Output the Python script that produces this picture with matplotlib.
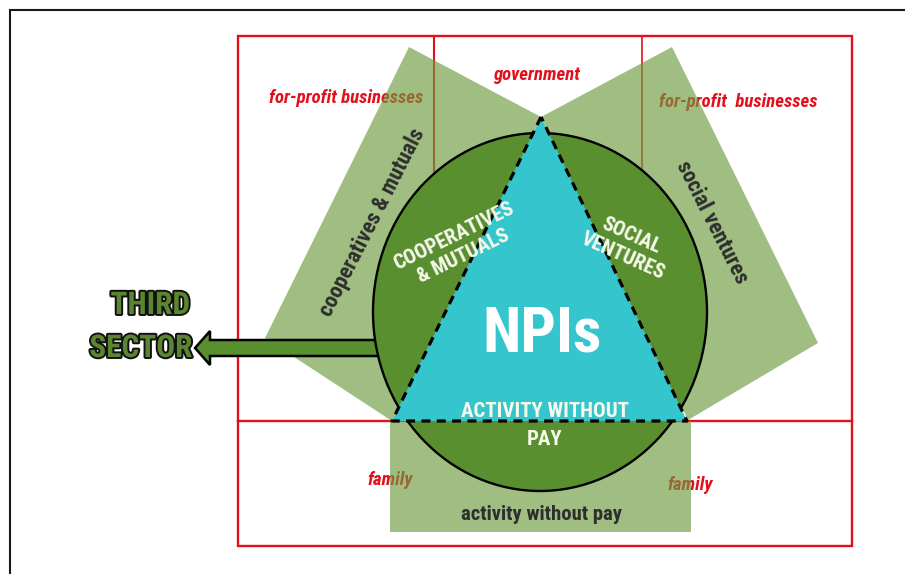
import matplotlib
matplotlib.use("Agg")
import matplotlib.pyplot as plt
from matplotlib.patches import Polygon, Ellipse, Rectangle, FancyArrow
from matplotlib import font_manager
import matplotlib.patheffects as pe

# ---- labels (diagram content) ----
outer_labels = ["government", "for-profit businesses", "for-profit  businesses", "family", "family"]
band_labels = ["cooperatives & mutuals", "social ventures", "activity without pay"]
inner_labels = ["COOPERATIVES\n& MUTUALS", "SOCIAL\nVENTURES", "ACTIVITY WITHOUT", "PAY"]
center_label = "NPIs"
side_labels = ["THIRD", "SECTOR"]

# ---- pick a narrow font if one is installed ----
available = {f.name for f in font_manager.fontManager.ttflist}
narrow = None
for cand in ["Roboto Condensed", "Liberation Sans Narrow", "Arial Narrow",
             "Open Sans Condensed", "DejaVu Sans Condensed"]:
    if cand in available:
        narrow = cand
        break
if narrow is None:
    FONT = ["Liberation Sans", "DejaVu Sans"]
    S = 0.84          # shrink regular-width font to match narrow widths
else:
    FONT = [narrow, "Liberation Sans", "DejaVu Sans"]
    S = 1.0

# ---- figure in pixel coordinates ----
W, H = 905, 574
fig = plt.figure(figsize=(W / 100, H / 100), dpi=100)
ax = fig.add_axes([0, 0, 1, 1])
ax.set_xlim(0, W)
ax.set_ylim(H, 0)
ax.axis("off")

RED = "#e3101b"
BAND = "#6d9b3f"
BAND_ALPHA = 0.65
CIRCLE = "#5a8f30"
CYAN = "#34c6cc"
DARK = "#2e2e2e"
WHITE = "#f6f9ec"

# outer black frame (left and top)
ax.plot([10, 10, W], [H, 10, 10], color="#1a1a1a", lw=1.5, zorder=0,
        solid_joinstyle="miter")

# red sector grid
ax.add_patch(Rectangle((238, 36), 614, 510, fill=False, ec=RED, lw=1.7, zorder=1))
ax.plot([238, 852], [421, 421], color=RED, lw=1.7, zorder=1)
ax.plot([434, 434], [36, 421], color=RED, lw=1.5, zorder=1)
ax.plot([642, 642], [36, 421], color=RED, lw=1.2, zorder=1)

# red sector labels (under the translucent bands)
red_kw = dict(fontfamily=FONT, fontweight="bold", fontstyle="italic",
              fontsize=13.5 * S, color=RED, ha="center", va="baseline", zorder=1)
ax.text(537, 80, outer_labels[0], **red_kw)
ax.text(346, 103, outer_labels[1], **red_kw)
ax.text(738, 107, outer_labels[2], **red_kw)
ax.text(390, 485, outer_labels[3], **red_kw)
ax.text(690, 490, outer_labels[4], **red_kw)

# translucent bands
band_kw = dict(closed=True, fc=BAND, ec="none", alpha=BAND_ALPHA, zorder=2)
ax.add_patch(Polygon([(409, 47), (541, 117), (392, 421), (265, 338)], **band_kw))
ax.add_patch(Polygon([(541, 117), (672, 47), (818, 343), (688, 420)], **band_kw))
ax.add_patch(Rectangle((390, 421), 301, 111, fc=BAND, ec="none", alpha=BAND_ALPHA, zorder=2))

# arrow to "THIRD SECTOR"
ax.add_patch(FancyArrow(390, 348, -195, 0, width=16, head_width=34, head_length=15,
                        length_includes_head=True, fc=CIRCLE, ec="black", lw=1.8,
                        zorder=3))

# circle
ax.add_patch(Ellipse((540, 312), 334, 358, fc=CIRCLE, ec="black", lw=1.7, zorder=4))

# NPI triangle
tri = [(541, 117), (392, 421), (687, 421)]
ax.add_patch(Polygon(tri, closed=True, fc=CYAN, ec="none", zorder=5))
xs = [p[0] for p in tri] + [tri[0][0]]
ys = [p[1] for p in tri] + [tri[0][1]]
ax.plot(xs, ys, color="black", lw=2.3, linestyle=(0, (2.8, 2.0)), zorder=6)

# band labels
ax.text(372, 222, band_labels[0], fontfamily=FONT, fontsize=15.8 * S, fontweight="bold",
        color=DARK, rotation=63, ha="center", va="center", rotation_mode="anchor", zorder=7)
ax.text(712, 222, band_labels[1], fontfamily=FONT, fontsize=15.8 * S, fontweight="bold",
        color=DARK, rotation=-63, ha="center", va="center", rotation_mode="anchor", zorder=7)
ax.text(541, 520, band_labels[2], fontfamily=FONT, fontsize=14.9 * S, fontweight="bold",
        color=DARK, ha="center", va="baseline", zorder=7)

# inner labels
ax.text(459, 246, inner_labels[0], fontfamily=FONT, fontsize=14.8 * S, fontweight="bold",
        color=WHITE, rotation=26, ha="center", va="center", multialignment="center",
        rotation_mode="anchor", linespacing=1.2, zorder=7)
ax.text(627, 246, inner_labels[1], fontfamily=FONT, fontsize=14.8 * S, fontweight="bold",
        color=WHITE, rotation=-24, ha="center", va="center", multialignment="center",
        rotation_mode="anchor", linespacing=1.2, zorder=7)
ax.text(545, 417, inner_labels[2], fontfamily=FONT, fontsize=15 * S, fontweight="bold",
        color=WHITE, ha="center", va="baseline", zorder=7)
ax.text(545, 445, inner_labels[3], fontfamily=FONT, fontsize=15 * S, fontweight="bold",
        color=WHITE, ha="center", va="baseline", zorder=7)
ax.text(542, 352, center_label, fontfamily=FONT, fontsize=45 * S, fontweight="bold",
        color="white", ha="center", va="baseline", zorder=7)

# THIRD SECTOR
side_kw = dict(fontfamily=FONT, fontsize=22.5 * S, fontweight="bold", color="#5b8530",
               ha="right", va="baseline", zorder=7,
               path_effects=[pe.withStroke(linewidth=2.8, foreground="#111111")])
ax.text(190, 314, side_labels[0], **side_kw)
ax.text(192, 357, side_labels[1], **side_kw)

fig.savefig("out.png", dpi=100)
